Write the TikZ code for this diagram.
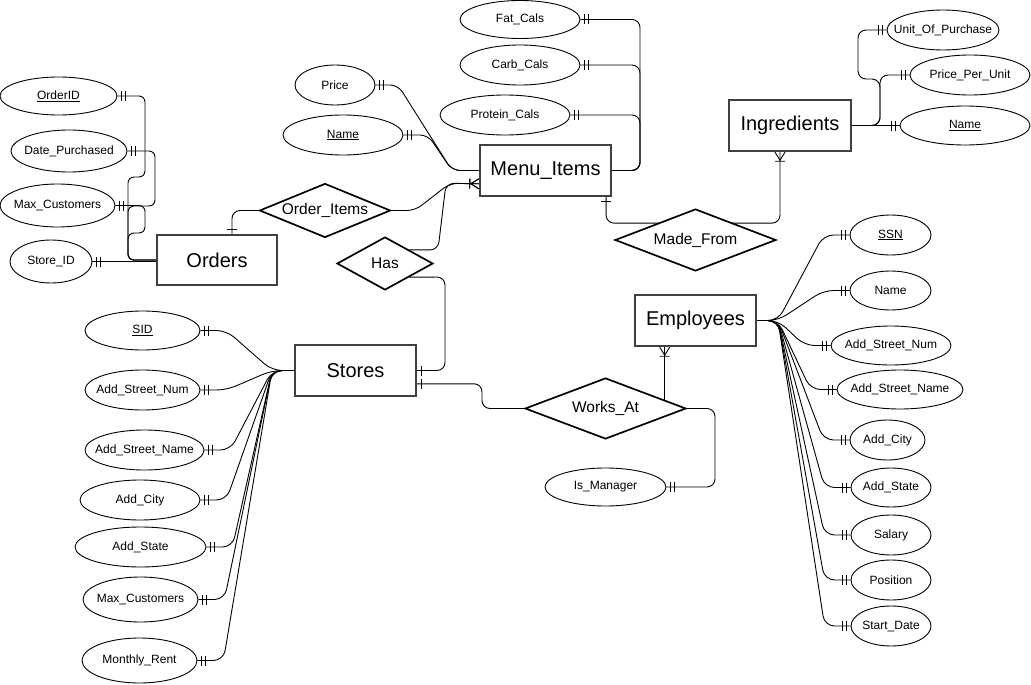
\documentclass[tikz,border=0pt]{standalone}
\usepackage{fontspec}
\setmainfont{Liberation Sans}
\usepackage{tikz}
\usetikzlibrary{shapes.geometric,decorations.markings,backgrounds,calc}
\tikzstyle{er_ent} = [rectangle, draw=black!75, line width=2.2pt, fill=white, inner sep=0pt, font=\fontsize{20}{24}\selectfont]
\tikzstyle{er_rel} = [diamond, draw=black, line width=1.7pt, fill=white, aspect=2.6, inner sep=0pt, font=\fontsize{15.5}{18}\selectfont]
\tikzstyle{er_att} = [ellipse, draw=black, line width=0.9pt, fill=white, inner xsep=-12pt, inner ysep=0pt, font=\fontsize{12}{14}\selectfont]
\tikzstyle{er_line} = [line width=0.9pt, rounded corners=8pt]
\tikzstyle{mand_one} = [postaction={decorate,decoration={markings,
    mark=at position 4pt with {\draw[sharp corners] (0,-5pt) -- (0,5pt);},
    mark=at position 8pt with {\draw[sharp corners] (0,-5pt) -- (0,5pt);}}}]
\tikzstyle{one_start} = [postaction={decorate,decoration={markings,
    mark=at position 4pt with {\draw[sharp corners] (0,-5pt) -- (0,5pt);}}}]
\tikzstyle{one_end} = [postaction={decorate,decoration={markings,
    mark=at position -4pt with {\draw[sharp corners] (0,-5pt) -- (0,5pt);}}}]
\tikzstyle{many_end} = [postaction={decorate,decoration={markings,
    mark=at position -0.1pt with {\draw[sharp corners] (-9pt,-5pt) -- (-9pt,5pt) (0,-5pt) -- (-8pt,0) -- (0,5pt);}}}]

\begin{document}
\begin{tikzpicture}[x=1pt,y=1pt]
\useasboundingbox (0,0) rectangle (1031,-685);

\node [er_ent, minimum width=120pt, minimum height=50pt] (orders) at (217,-260) {Orders};
\node [er_att, minimum width=117pt, minimum height=38pt] (oid) at (58.5,-96) {\underline{OrderID}};
\node [er_att, minimum width=116pt, minimum height=42pt] (datep) at (69,-151) {Date\_Purchased};
\node [er_att, minimum width=115pt, minimum height=43pt] (maxc) at (57.5,-205.5) {Max\_Customers};
\node [er_att, minimum width=82pt, minimum height=43pt] (storeid) at (51,-261.5) {Store\_ID};

\node [er_ent, minimum width=131pt, minimum height=51pt] (menu) at (545.5,-170.5) {Menu\_Items};
\node [er_att, minimum width=120pt, minimum height=38pt] (fat) at (520,-19.5) {Fat\_Cals};
\node [er_att, minimum width=120pt, minimum height=40pt] (carb) at (520,-65) {Carb\_Cals};
\node [er_att, minimum width=130pt, minimum height=40pt] (prot) at (505,-115) {Protein\_Cals};
\node [er_att, minimum width=80pt, minimum height=40pt] (price) at (335,-85) {Price};
\node [er_att, minimum width=120pt, minimum height=40pt] (mname) at (343,-135) {\underline{Name}};

\node [er_ent, minimum width=122pt, minimum height=51pt] (ing) at (790,-125.5) {Ingredients};
\node [er_att, minimum width=112pt, minimum height=40pt] (uop) at (943,-30) {Unit\_Of\_Purchase};
\node [er_att, minimum width=120pt, minimum height=40pt] (ppu) at (970,-75) {Price\_Per\_Unit};
\node [er_att, minimum width=130pt, minimum height=39pt] (iname) at (965,-125.5) {\underline{Name}};

\node [er_rel, minimum width=131pt, minimum height=54pt] (ordit) at (325,-210.5) {Order\_Items};
\node [er_rel, minimum width=96pt, minimum height=53pt] (has) at (385,-263.5) {Has};
\node [er_rel, minimum width=161pt, minimum height=62pt] (madefrom) at (695.5,-240) {Made\_From};
\node [er_rel, minimum width=161pt, minimum height=61pt] (worksat) at (605.5,-408.5) {Works\_At};
\node [er_att, minimum width=121pt, minimum height=38pt] (isman) at (605.5,-487) {Is\_Manager};

\node [er_ent, minimum width=121pt, minimum height=51pt] (emp) at (695.5,-320.5) {Employees};
\node [er_att, minimum width=81pt, minimum height=40pt] (ssn) at (890.5,-235) {\underline{SSN}};
\node [er_att, minimum width=81pt, minimum height=39pt] (ename) at (890.5,-290.5) {Name};
\node [er_att, minimum width=120pt, minimum height=39pt] (esnum) at (891,-345.5) {Add\_Street\_Num};
\node [er_att, minimum width=126pt, minimum height=39pt] (esname) at (900,-389.5) {Add\_Street\_Name};
\node [er_att, minimum width=75pt, minimum height=40pt] (ecity) at (887.5,-440) {Add\_City};
\node [er_att, minimum width=80pt, minimum height=39pt] (estate) at (891,-487.5) {Add\_State};
\node [er_att, minimum width=80pt, minimum height=40pt] (salary) at (891,-535) {Salary};
\node [er_att, minimum width=80pt, minimum height=40pt] (position) at (891,-580) {Position};
\node [er_att, minimum width=80pt, minimum height=40pt] (start) at (891,-626) {Start\_Date};

\node [er_ent, minimum width=121pt, minimum height=51pt] (stores) at (355.5,-370.5) {Stores};
\node [er_att, minimum width=115pt, minimum height=39pt] (sid) at (142.5,-330.5) {\underline{SID}};
\node [er_att, minimum width=115pt, minimum height=40pt] (snum) at (142.5,-390) {Add\_Street\_Num};
\node [er_att, minimum width=119pt, minimum height=40pt] (sname) at (144.5,-450) {Add\_Street\_Name};
\node [er_att, minimum width=120pt, minimum height=40pt] (scity) at (140,-500) {Add\_City};
\node [er_att, minimum width=131pt, minimum height=40pt] (sstate) at (140.5,-547) {Add\_State};
\node [er_att, minimum width=115pt, minimum height=45pt] (smax) at (140.5,-599.5) {Max\_Customers};
\node [er_att, minimum width=115pt, minimum height=45pt] (srent) at (139.5,-660.5) {Monthly\_Rent};

\coordinate (menu_in) at ($(menu.west)!0.5!(menu.south west)$);
\coordinate (menu_foot) at ($(menu.south east)+(-6,0)$);
\coordinate (ing_foot) at ($(ing.south)+(-10,0)$);
\coordinate (emp_foot) at ($(emp.south west)!0.25!(emp.south east)$);
\coordinate (mf_top) at ($(madefrom.north)+(0,-15)$);

\begin{scope}[on background layer]
\draw [er_line, mand_one, rounded corners=6pt] (oid.east) -- (145,-96) -- (145,-177) -- (128,-177) -- (128,-260) -- (orders.west);
\draw [er_line, mand_one, rounded corners=6pt] (datep.east) -- (155,-151) -- (155,-206) -- (128,-206) -- (128,-260) -- (orders.west);
\draw [er_line, mand_one, rounded corners=6pt] (maxc.east) -- (145,-205.5) -- (145,-233) -- (128,-233) -- (128,-260) -- (orders.west);
\draw [er_line, mand_one] (storeid.east) -- (storeid.east -| orders.west);
\draw [er_line, one_end] (ordit.west) -| ($(orders.north)+(15,0)$);
\draw [er_line, many_end] (ordit.east) -- (415,-210.5) -- (450,-183.25) -- (menu_in);
\draw [er_line, many_end] ($(has.north)!0.5!(has.east)$) -- (438,-250) -- (446,-183.25) -- (menu_in);
\draw [er_line, one_end] ($(has.south)!0.5!(has.east)$) -- (445,-277) |- (stores.east);
\draw [er_line, one_end] (worksat.west) -- (482,-408.5) |- ($(stores.east)!0.5!(stores.south east)$);
\draw [er_line, many_end] (worksat.center -| emp_foot) -- (emp_foot);
\draw [er_line, mand_one] (isman.east) -- (715,-487) |- (worksat.east);
\draw [er_line, one_start] (menu_foot) |- (mf_top);
\draw [er_line, many_end] (mf_top) -| (ing_foot);

\draw [er_line, mand_one] (fat.east) -- (640,-19.5) -- (640,-170.5) -- (menu.east);
\draw [er_line, mand_one] (carb.east) -- (640,-65) -- (640,-170.5) -- (menu.east);
\draw [er_line, mand_one] (prot.east) -- (640,-115) -- (640,-170.5) -- (menu.east);
\draw [er_line, mand_one] (price.east) -- (398,-85) -- (452,-170.5) -- (menu.west);
\draw [er_line, mand_one] (mname.east) -- (428,-135) -- (452,-170.5) -- (menu.west);

\draw [er_line, mand_one] (uop.west) -- (858,-30) -- (858,-79) -- (880,-79) -- (880,-125.5) -- (ing.east);
\draw [er_line, mand_one] (ppu.west) -- (880,-75) -- (880,-125.5) -- (ing.east);
\draw [er_line, mand_one] (iname.west) -- (ing.east);

\draw [er_line, mand_one, rounded corners=10pt] (ssn.west) -- ++(-26,0) -- (778,-320.5) -- (emp.east);
\draw [er_line, mand_one, rounded corners=10pt] (ename.west) -- ++(-26,0) -- (778,-320.5) -- (emp.east);
\draw [er_line, mand_one, rounded corners=10pt] (esnum.west) -- ++(-26,0) -- (778,-320.5) -- (emp.east);
\draw [er_line, mand_one, rounded corners=10pt] (esname.west) -- ++(-26,0) -- (778,-320.5) -- (emp.east);
\draw [er_line, mand_one, rounded corners=10pt] (ecity.west) -- ++(-26,0) -- (778,-320.5) -- (emp.east);
\draw [er_line, mand_one, rounded corners=10pt] (estate.west) -- ++(-26,0) -- (778,-320.5) -- (emp.east);
\draw [er_line, mand_one, rounded corners=10pt] (salary.west) -- ++(-26,0) -- (778,-320.5) -- (emp.east);
\draw [er_line, mand_one, rounded corners=10pt] (position.west) -- ++(-26,0) -- (778,-320.5) -- (emp.east);
\draw [er_line, mand_one, rounded corners=10pt] (start.west) -- ++(-26,0) -- (778,-320.5) -- (emp.east);

\draw [er_line, mand_one, rounded corners=10pt] (sid.east) -- ++(26,0) -- (272,-370.5) -- (stores.west);
\draw [er_line, mand_one, rounded corners=10pt] (snum.east) -- ++(26,0) -- (272,-370.5) -- (stores.west);
\draw [er_line, mand_one, rounded corners=10pt] (sname.east) -- ++(26,0) -- (272,-370.5) -- (stores.west);
\draw [er_line, mand_one, rounded corners=10pt] (scity.east) -- ++(26,0) -- (272,-370.5) -- (stores.west);
\draw [er_line, mand_one, rounded corners=10pt] (sstate.east) -- ++(26,0) -- (272,-370.5) -- (stores.west);
\draw [er_line, mand_one, rounded corners=10pt] (smax.east) -- ++(26,0) -- (272,-370.5) -- (stores.west);
\draw [er_line, mand_one, rounded corners=10pt] (srent.east) -- ++(26,0) -- (272,-370.5) -- (stores.west);
\end{scope}
\end{tikzpicture}
\end{document}
